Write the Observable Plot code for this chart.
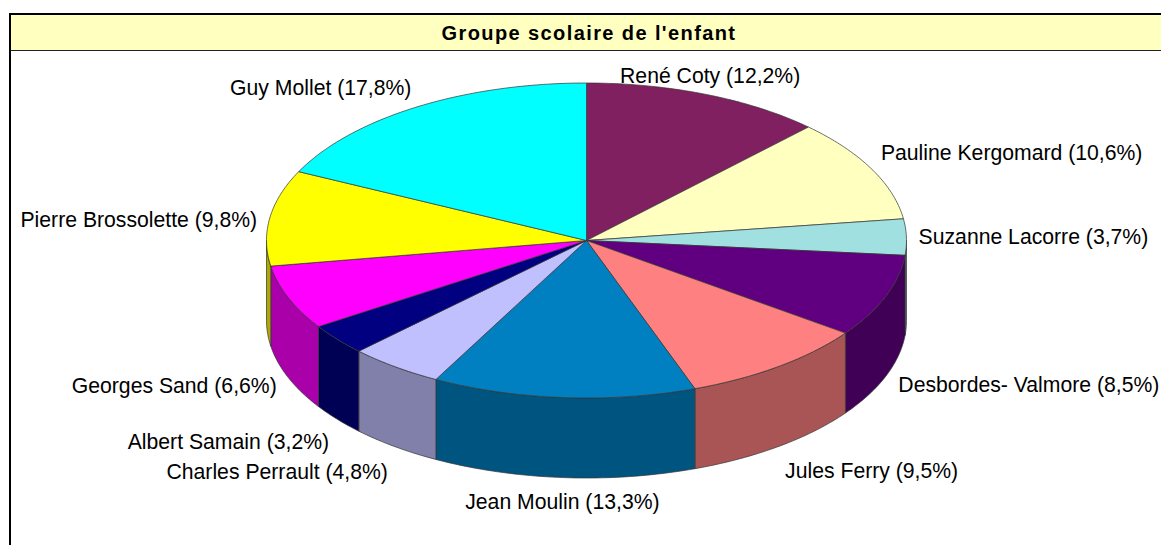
<!DOCTYPE html>
<html>
<head>
<meta charset="utf-8">
<script src="https://cdn.jsdelivr.net/npm/d3@7"></script>
<script src="https://cdn.jsdelivr.net/npm/@observablehq/plot@0.6"></script>
<style>
html,body{margin:0;padding:0;background:#fff;overflow:hidden;width:1161px;height:545px}
#wrap{position:absolute;left:0;top:0;width:1161px;height:545px}
#line-top{position:absolute;left:9px;top:13px;right:0;height:2px;background:#000}
#line-left{position:absolute;left:9px;top:13px;bottom:0;width:2px;background:#000}
#title{position:absolute;left:11px;right:0;top:15px;height:35px;background:#ffffc0;border-bottom:1px solid #222;
  font:bold 20px/36px "Liberation Sans",Arial,sans-serif;letter-spacing:1.4px;text-align:center;color:#000;text-indent:6px}
#chart{position:absolute;left:0;top:51px}
#chart svg{overflow:hidden;background:transparent}
</style>
</head>
<body>
<div id="wrap">
  <div id="chart"></div>
  <div id="title">Groupe scolaire de l'enfant</div>
  <div id="line-top"></div>
  <div id="line-left"></div>
</div>
<script>
const names = ["René Coty","Pauline Kergomard","Suzanne Lacorre","Desbordes- Valmore","Jules Ferry","Jean Moulin","Charles Perrault","Albert Samain","Georges Sand","Pierre Brossolette","Guy Mollet"];
const shares = [12.2,10.6,3.7,8.5,9.5,13.3,4.8,3.2,6.6,9.8,17.8];
const shareLabels = ["12,2%","10,6%","3,7%","8,5%","9,5%","13,3%","4,8%","3,2%","6,6%","9,8%","17,8%"];
const topColors = ["#802060","#ffffc0","#a0e0e0","#600080","#ff8080","#0080c0","#c0c0ff","#000080","#ff00ff","#ffff00","#00ffff"];
const wallColors = ["#551540","#aaaa80","#6b9595","#400055","#aa5555","#005580","#8080aa","#000055","#aa00aa","#aaaa00","#00aaaa"];
// layout: label nudge from the rim point, in pixels
const labelNudgeX = [4,140,127,143,93,-1,-118,-109,-114,-131,-96];
const labelNudgeY = [-18,-16,0,89,105,105,105,103,89,2,-19];

const W = 1161, H = 494;
const RX = 320, RY = 157.5, CX = 586, CY = 189, DEPTH = 80 / RY; // y unit = RY pixels
const xDomain = [-CX / RX, (W - CX) / RX];
const yDomain = [CY / RY, -(H - CY) / RY];

const rad = d => d * Math.PI / 180;
const px = a => Math.sin(rad(a));
const py = a => Math.cos(rad(a));

let cum = 0;
const slices = names.map((name, i) => {
  const a0 = cum * 3.6; cum += shares[i]; const a1 = cum * 3.6;
  return {name, i, a0, a1, mid: (a0 + a1) / 2};
});

function arc(a0, a1) {
  const n = Math.max(2, Math.ceil((a1 - a0) / 1));
  return d3.range(n + 1).map(k => a0 + (a1 - a0) * k / n);
}

const tops = slices.flatMap(s => {
  const pts = [{x:0,y:0}, ...arc(s.a0, s.a1).map(a => ({x:px(a),y:py(a)})), {x:0,y:0}];
  return pts.map(p => ({...p, name:s.name, color:topColors[s.i]}));
});

const walls = slices.flatMap(s => {
  const a0 = Math.max(s.a0, 90), a1 = Math.min(s.a1, 270);
  if (a1 <= a0) return [];
  const as = arc(a0, a1);
  const pts = [...as.map(a => ({x:px(a),y:py(a)})), ...as.slice().reverse().map(a => ({x:px(a),y:py(a)-DEPTH}))];
  pts.push(pts[0]);
  return pts.map(p => ({...p, name:s.name, color:wallColors[s.i]}));
});

const labels = slices.map(s => ({
  text: `${s.name} (${shareLabels[s.i]})`,
  x: px(s.mid) + labelNudgeX[s.i] / RX,
  y: py(s.mid) - labelNudgeY[s.i] / RY
}));

const plot = Plot.plot({
  width: W, height: H,
  margin: 0,
  x: {domain: xDomain, range: [0, W], axis: null},
  y: {domain: yDomain, range: [0, H], axis: null},
  color: {type: "identity"},
  style: {background: "transparent"},
  marks: [
    Plot.line(walls, {x:"x", y:"y", z:"name", fill:"color", stroke:"#333", strokeWidth:0.7, curve:"linear"}),
    Plot.line(tops, {x:"x", y:"y", z:"name", fill:"color", stroke:"#333", strokeWidth:0.7, curve:"linear"}),
    Plot.text(labels, {x:"x", y:"y", text:"text", fill:"#000", fontSize:21.2, fontFamily:"Liberation Sans, Arial, sans-serif", textAnchor:"middle", lineAnchor:"middle"})
  ]
});
document.getElementById("chart").appendChild(plot);
</script>
</body>
</html>
